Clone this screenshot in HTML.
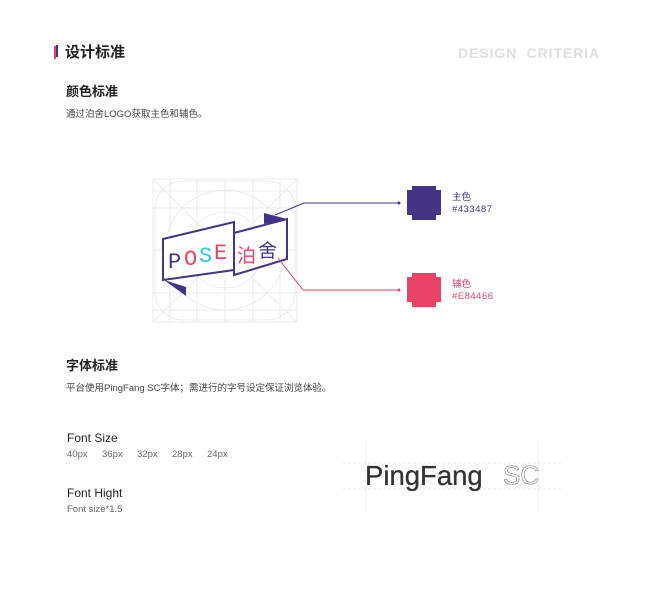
<!DOCTYPE html>
<html><head><meta charset="utf-8"><style>
body{margin:0;width:655px;height:600px;background:#fff;position:relative;font-family:"Liberation Sans","Noto Sans CJK SC",sans-serif;overflow:hidden}
.t{position:absolute;white-space:nowrap;line-height:1}
</style></head><body>
<div style="position:absolute;left:54px;top:46px;width:2px;height:13px;background:#e84466"></div>
<div style="position:absolute;left:56px;top:45px;width:2px;height:12px;background:#433487"></div>
<div class="t" style="left:65px;top:45px;font-size:15px;font-weight:bold;color:#222">设计标准</div>
<div class="t" style="left:458px;top:46px;font-size:14px;font-weight:bold;color:#dedede;letter-spacing:0.9px">DESIGN&nbsp; CRITERIA</div>
<div class="t" style="left:66px;top:85px;font-size:13px;font-weight:bold;color:#222">颜色标准</div>
<div class="t" style="left:66px;top:110px;font-size:9.5px;color:#444">通过泊舍LOGO获取主色和辅色。</div>

<svg style="position:absolute;left:0;top:0" width="655" height="600">
<g stroke="#e6e6e6" stroke-width="0.8" fill="none">
<rect x="153" y="179" width="144" height="143"/>
<line x1="153" y1="191" x2="297" y2="191"/><line x1="153" y1="310" x2="297" y2="310"/>
<line x1="170" y1="179" x2="170" y2="322"/><line x1="280" y1="179" x2="280" y2="322"/>
<line x1="153" y1="208" x2="297" y2="208"/><line x1="153" y1="293" x2="297" y2="293"/>
<line x1="197" y1="179" x2="197" y2="322"/><line x1="253" y1="179" x2="253" y2="322"/>
<line x1="153" y1="250" x2="297" y2="250"/><line x1="225" y1="179" x2="225" y2="322"/>
<line x1="153" y1="179" x2="297" y2="322"/><line x1="297" y1="179" x2="153" y2="322"/>
<rect x="155" y="181" width="140" height="139" rx="28"/>
<circle cx="225" cy="250" r="60"/><circle cx="225" cy="250" r="38"/>
</g>
<polygon points="164,280 186,287 186,296" fill="#433487"/>
<polygon points="264,213 287,219 264,224" fill="#433487"/>
<polygon points="163,239 234,222 234,270 163,280" fill="#fff" stroke="#433487" stroke-width="2"/>
<polygon points="234,233 287,219 287,259 234,275" fill="#fff" stroke="#433487" stroke-width="2"/>
<g font-family="Liberation Mono,monospace" font-size="22">
<text x="168" y="268" fill="#433487">P</text><text x="184" y="265" fill="#e84466">O</text><text x="199" y="262" fill="#2ec5e8">S</text><text x="214" y="259" fill="#e84466">E</text>
</g>
<text x="237" y="262" font-size="19" fill="#e84466" font-family="Noto Sans CJK SC">泊</text>
<text x="258" y="257" font-size="19" fill="#433487" font-family="Noto Sans CJK SC">舍</text>
<polyline points="275,215 304,203 399,203" fill="none" stroke="#433487" stroke-width="1"/>
<circle cx="399" cy="203" r="1.5" fill="#433487"/>
<polyline points="278,258 303,290 399,290" fill="none" stroke="#e84466" stroke-width="1"/>
<circle cx="399" cy="290" r="1.5" fill="#e84466"/>
<polygon points="412,186 436,186 436,190 441,190 441,215 436,215 436,220 412,220 412,215 407,215 407,190 412,190" fill="#433487"/>
<polygon points="412,273 436,273 436,277 441,277 441,302 436,302 436,307 412,307 412,302 407,302 407,277 412,277" fill="#e84466"/>
<g stroke="#e4e4e4" stroke-width="0.8" stroke-dasharray="3,2">
<line x1="343" y1="463" x2="563" y2="463"/><line x1="343" y1="489" x2="563" y2="489"/>
</g>
<g stroke="#ececec" stroke-width="0.8">
<line x1="366" y1="443" x2="366" y2="512"/><line x1="538" y1="443" x2="538" y2="512"/>
</g>
<text x="365" y="485" font-size="27.5" fill="#333" stroke="#333" stroke-width="0.3" font-family="Liberation Sans">PingFang</text>
<text x="503" y="484" font-size="26" fill="none" stroke="#999" stroke-width="0.8" font-family="Liberation Sans">SC</text>
</svg>
<div class="t" style="left:452px;top:193px;font-size:9.5px;color:#433487">主色</div>
<div class="t" style="left:452px;top:205px;font-size:9.5px;color:#433487;letter-spacing:0.5px">#433487</div>
<div class="t" style="left:452px;top:280px;font-size:9.5px;color:#e84466">辅色</div>
<div class="t" style="left:452px;top:292px;font-size:9.5px;color:#e84466;letter-spacing:0.5px">#E84466</div>

<div class="t" style="left:66px;top:359px;font-size:13px;font-weight:bold;color:#222">字体标准</div>
<div class="t" style="left:66px;top:384px;font-size:9.5px;color:#444">平台使用PingFang SC字体；需进行的字号设定保证浏览体验。</div>
<div class="t" style="left:67px;top:432px;font-size:12px;color:#222">Font Size</div>
<div class="t" style="left:67px;top:450px;font-size:9.5px;color:#666;word-spacing:0"><span style="position:absolute;left:0">40px</span><span style="position:absolute;left:35px">36px</span><span style="position:absolute;left:70px">32px</span><span style="position:absolute;left:105px">28px</span><span style="position:absolute;left:140px">24px</span></div>
<div class="t" style="left:67px;top:487px;font-size:12px;color:#222">Font Hight</div>
<div class="t" style="left:67px;top:505px;font-size:9.5px;color:#666">Font size*1.5</div>
</body></html>
